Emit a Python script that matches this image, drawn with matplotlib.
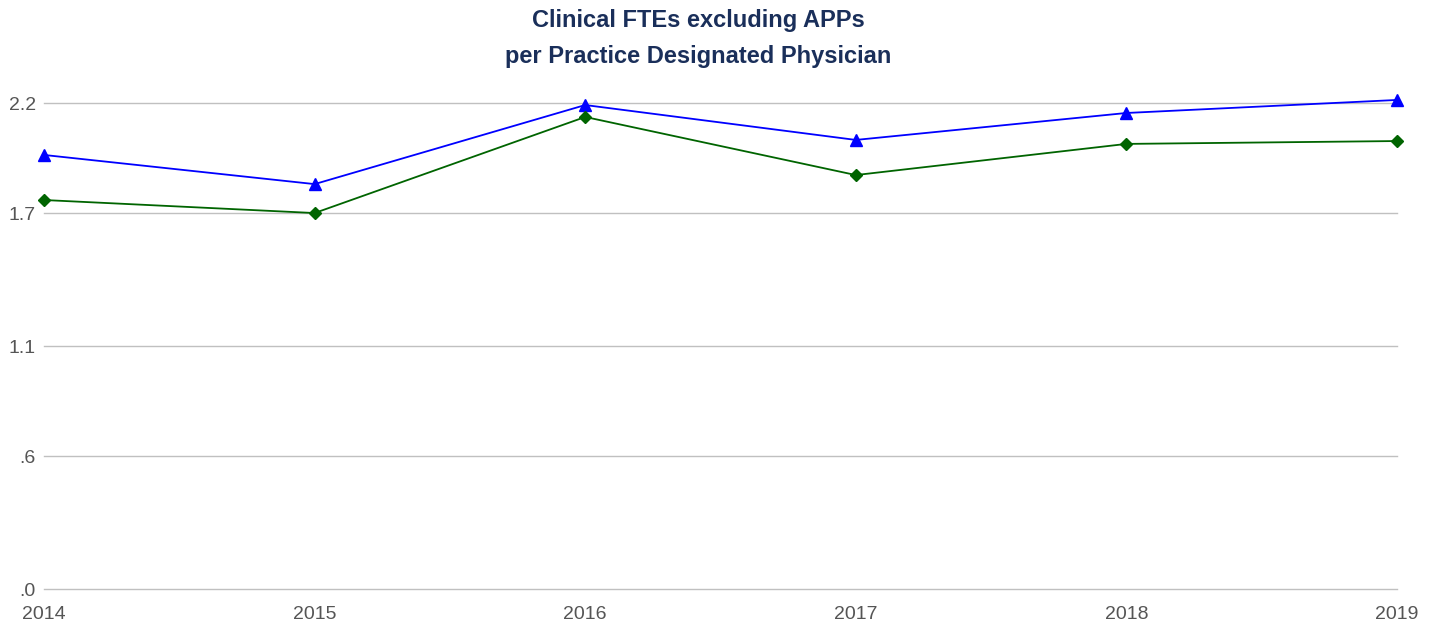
import matplotlib.pyplot as plt

years = [2014, 2015, 2016, 2017, 2018, 2019]
with_apps = [1.965, 1.833, 2.191, 2.033, 2.155, 2.214]
excl_apps = [1.761, 1.702, 2.137, 1.874, 2.015, 2.028]

ytick_vals = [0.0, 0.6, 1.1, 1.7, 2.2]
ytick_labels = [".0", ".6", "1.1", "1.7", "2.2"]

plt.rcParams['font.family'] = ['Liberation Sans', 'DejaVu Sans']

fig = plt.figure(figsize=(14.34, 6.29), dpi=100)
ax = fig.add_axes([44/1434, 1-589/629, (1397-44)/1434, (589-92)/629])

ax.plot(years, with_apps, color='#0000ff', lw=1.3, marker='^', ms=8, zorder=3, clip_on=False)
ax.plot(years, excl_apps, color='#006400', lw=1.3, marker='D', ms=6.5, zorder=3, clip_on=False)

ax.set_xlim(2014, 2019)
ax.set_ylim(0, 2.25)
ax.set_yticks(ytick_vals)
ax.set_yticklabels(ytick_labels)
ax.set_xticks(years)
ax.set_xticklabels([str(y) for y in years])
ax.grid(axis='y', color='#c0c0c0', lw=1)
for gl in ax.get_ygridlines():
    gl.set_clip_on(False)
ax.set_axisbelow(True)
for s in ax.spines.values():
    s.set_visible(False)
ax.tick_params(length=0, labelsize=14, colors='#555555')
ax.tick_params(axis='y', pad=6)
ax.tick_params(axis='x', pad=12)
for lbl in ax.get_yticklabels():
    lbl.set_verticalalignment('center_baseline')

fig.text(698/1434, 1-20/629, "Clinical FTEs excluding APPs", ha='center', va='center',
         fontsize=17, fontweight='bold', color='#1a2f5a')
fig.text(698/1434, 1-56/629, "per Practice Designated Physician", ha='center', va='center',
         fontsize=17, fontweight='bold', color='#1a2f5a')

fig.savefig('out.png', dpi=100)
